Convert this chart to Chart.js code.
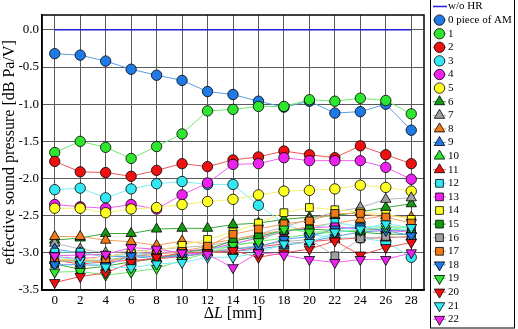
<!DOCTYPE html>
<html><head><meta charset="utf-8">
<script src="https://cdn.jsdelivr.net/npm/chart.js@4"></script>
<style>html,body{margin:0;padding:0;background:#fff}#wrap{width:518px;height:329px}</style>
</head><body><div id="wrap"><canvas id="c" width="518" height="329"></canvas></div>
<script>
const xValues = [0,2,4,6,8,10,12,14,16,18,20,22,24,26,28];
const xTicks = [0,2,4,6,8,10,12,14,16,18,20,22,24,26,28];
const yTicks = [-3.5,-3.0,-2.5,-2.0,-1.5,-1.0,-0.5,0.0];
const seriesNames = ['0 piece of AM','1','2','3','4','5','6','7','8','9','10','11','12','13','14','15','16','17','18','19','20','21','22'];
const woHR = [0,0,0,0,0,0,0,0,0,0,0,0,0,0,0];
const s0  = [-0.32,-0.34,-0.42,-0.53,-0.61,-0.68,-0.83,-0.87,-0.96,-1.04,-0.96,-1.12,-1.10,-1.00,-1.35];
const s1  = [-1.65,-1.50,-1.58,-1.73,-1.57,-1.40,-1.09,-1.07,-1.03,-1.03,-0.94,-0.96,-0.92,-0.95,-1.13];
const s2  = [-1.77,-1.91,-1.92,-1.97,-1.89,-1.80,-1.84,-1.75,-1.71,-1.63,-1.68,-1.72,-1.56,-1.68,-1.80];
const s3  = [-2.15,-2.13,-2.26,-2.14,-2.07,-2.04,-2.08,-2.08,-2.36,-2.60,-2.75,-2.80,-2.80,-2.85,-3.06];
const s4  = [-2.35,-2.38,-2.40,-2.35,-2.41,-2.22,-2.06,-1.81,-1.80,-1.72,-1.76,-1.76,-1.76,-1.85,-2.01];
const s5  = [-2.40,-2.40,-2.46,-2.41,-2.39,-2.35,-2.31,-2.28,-2.22,-2.17,-2.16,-2.14,-2.09,-2.12,-2.17];
const s6  = [-2.83,-2.80,-2.74,-2.74,-2.68,-2.67,-2.67,-2.62,-2.60,-2.55,-2.52,-2.50,-2.45,-2.39,-2.34];
const s7  = [-2.87,-2.95,-3.00,-2.98,-2.95,-2.93,-2.90,-2.85,-2.75,-2.65,-2.55,-2.45,-2.39,-2.28,-2.26];
const s8  = [-2.78,-2.78,-2.83,-2.85,-2.90,-2.84,-2.88,-2.82,-2.75,-2.70,-2.65,-2.60,-2.55,-2.50,-2.52];
const s9  = [-2.95,-3.00,-3.05,-3.05,-3.08,-3.02,-3.00,-2.98,-2.95,-2.90,-2.85,-2.78,-2.72,-2.70,-2.70];
const s10 = [-3.10,-3.12,-3.10,-3.05,-3.00,-2.98,-2.96,-2.90,-2.85,-2.80,-2.75,-2.72,-2.70,-2.68,-2.70];
const s11 = [-3.10,-3.15,-3.12,-3.10,-3.08,-3.05,-3.00,-2.98,-2.92,-2.88,-2.85,-2.82,-2.80,-2.80,-2.78];
const s12 = [-2.99,-2.99,-3.05,-3.02,-3.00,-2.98,-2.95,-2.90,-2.78,-2.70,-2.68,-2.59,-2.65,-2.65,-2.70];
const s13 = [-3.05,-3.08,-3.05,-3.00,-3.00,-2.98,-2.95,-2.88,-2.80,-2.72,-2.66,-2.65,-2.68,-2.70,-2.72];
const s14 = [-3.08,-3.10,-3.05,-3.00,-2.97,-2.90,-2.82,-2.72,-2.60,-2.46,-2.39,-2.42,-2.45,-2.48,-2.55];
const s15 = [-3.15,-3.22,-3.18,-3.12,-3.08,-3.00,-2.95,-2.84,-2.78,-2.70,-2.68,-2.70,-2.72,-2.75,-2.75];
const s16 = [-3.12,-3.10,-3.10,-3.05,-3.00,-3.00,-2.98,-2.95,-2.90,-2.85,-2.82,-3.04,-2.81,-2.78,-2.80];
const s17 = [-3.10,-3.10,-3.12,-3.05,-3.02,-2.98,-2.91,-2.75,-2.68,-2.61,-2.57,-2.47,-2.47,-2.52,-2.60];
const s18 = [-3.16,-3.16,-3.17,-3.04,-3.05,-3.05,-3.00,-2.95,-2.92,-2.82,-2.78,-2.68,-2.65,-2.70,-2.77];
const s19 = [-3.26,-3.25,-3.30,-3.26,-3.21,-3.10,-3.00,-2.90,-2.85,-2.68,-2.72,-2.72,-2.70,-2.65,-2.66];
const s20 = [-3.40,-3.32,-3.27,-3.13,-3.06,-3.00,-3.00,-2.97,-3.06,-3.00,-2.95,-2.84,-3.03,-2.93,-2.86];
const s21 = [-3.05,-3.10,-3.19,-3.20,-3.15,-3.13,-3.06,-3.06,-3.00,-2.88,-2.86,-2.72,-2.68,-2.61,-2.66];
const s22 = [-3.04,-3.03,-3.02,-2.93,-2.95,-3.00,-3.02,-3.20,-3.00,-3.03,-3.09,-3.13,-3.09,-3.09,-3.00];
const seriesValues = [s0,s1,s2,s3,s4,s5,s6,s7,s8,s9,s10,s11,s12,s13,s14,s15,s16,s17,s18,s19,s20,s21,s22];

const C = {
  blue:['#1f7ae6','#5a9ee8'], green:['#2ee62e','#70e870'], red:['#ee1111','#f05555'],
  cyan:['#33e8f2','#7aeef2'], mag:['#ee22ee','#f060f0'], yel:['#ffff22','#f4f070'],
  dgreen:['#129a12','#3aa83a'], gray:['#a0a0a0','#b8b8b8'], orange:['#f07a18','#f0a060']
};
const colorOrder = ['blue','green','red','cyan','mag','yel','dgreen','gray','orange','blue','green','red',
  'cyan','mag','yel','dgreen','gray','orange','blue','green','red','cyan','mag'];
function styleOf(i){
  if(i<6) return {pointStyle:'circle',rotation:0,radius:5.2};
  if(i<12) return {pointStyle:'triangle',rotation:0,radius:6};
  if(i<18) return {pointStyle:'rect',rotation:0,radius:5.5};
  return {pointStyle:'triangle',rotation:180,radius:6};
}
const datasets = seriesValues.map((vals,i)=>{
  const st = styleOf(i), col = C[colorOrder[i]];
  return {label:seriesNames[i], data:xValues.map((x,k)=>({x:x,y:vals[k]})),
    borderColor:col[1], borderWidth:1, backgroundColor:col[0],
    pointBackgroundColor:col[0], pointBorderColor:'#000', pointBorderWidth:0.8,
    pointStyle:st.pointStyle, pointRotation:st.rotation, pointRadius:st.radius, pointHoverRadius:st.radius,
    tension:0, order:100-i};
});
datasets.push({label:'w/o HR', data:xValues.map((x,k)=>({x:x,y:woHR[k]})), borderColor:'#2020d8',
  borderWidth:1.5, pointRadius:0, tension:0, order:200});

const legendPlugin = {
  id:'customLegend',
  afterDraw(chart){
    const ctx = chart.ctx, ca = chart.chartArea;
    ctx.save();
    ctx.strokeStyle='#000'; ctx.lineWidth=1.5;
    ctx.strokeRect(ca.left, ca.top, ca.right-ca.left, ca.bottom-ca.top);
    // x axis title with italic L
    const parts = [['\u0394','16px "Liberation Serif"'],['L','italic 16px "Liberation Serif"'],[' [mm]','16px "Liberation Serif"']];
    let tw = 0; parts.forEach(p=>{ctx.font=p[1]; tw+=ctx.measureText(p[0]).width;});
    let tx = (ca.left+ca.right)/2 - tw/2; const ty = 318;
    ctx.fillStyle='#000'; ctx.textBaseline='alphabetic'; ctx.textAlign='left';
    parts.forEach(p=>{ctx.font=p[1]; ctx.fillText(p[0],tx,ty); tx+=ctx.measureText(p[0]).width;});
    // legend
    ctx.strokeStyle='#000'; ctx.lineWidth=1;
    ctx.strokeRect(430.5,-2,84,330);
    ctx.font='11px "Liberation Serif"'; ctx.textBaseline='middle'; ctx.fillStyle='#000';
    const step = 13.6; let y = 6.5;
    ctx.strokeStyle='#2020d8'; ctx.lineWidth=1.5;
    ctx.beginPath(); ctx.moveTo(433,y); ctx.lineTo(447,y); ctx.stroke();
    ctx.fillStyle='#000'; ctx.fillText('w/o HR',448,y);
    for(let i=0;i<seriesNames.length;i++){
      y = 6.5 + (i+1)*step;
      const st = styleOf(i), col = C[colorOrder[i]];
      ctx.strokeStyle=col[1]; ctx.lineWidth=1;
      ctx.beginPath(); ctx.moveTo(433,y); ctx.lineTo(446,y); ctx.stroke();
      ctx.fillStyle=col[0]; ctx.strokeStyle='#000'; ctx.lineWidth=0.8;
      Chart.helpers.drawPoint(ctx,{pointStyle:st.pointStyle,rotation:st.rotation,radius:st.radius,borderWidth:0.8},439.5,y);
      ctx.fillStyle='#000';
      ctx.fillText(seriesNames[i],448,y);
    }
    ctx.restore();
  }
};

new Chart(document.getElementById('c'),{
  type:'line',
  data:{datasets:datasets},
  options:{
    responsive:false, animation:false, devicePixelRatio:1,
    layout:{padding:{left:0,right:94,top:15,bottom:0}},
    plugins:{legend:{display:false},tooltip:{enabled:false}},
    scales:{
      x:{type:'linear',min:-1,max:29,
        afterBuildTicks(s){s.ticks=xTicks.map(v=>({value:v}));},
        afterFit(s){s.height=39;},
        grid:{color:'#5a5a5a',lineWidth:1,drawTicks:false},
        border:{color:'#000',width:1.5},
        ticks:{color:'#000',font:{family:'"Liberation Serif"',size:13},padding:3,maxRotation:0},
        title:{display:false}
      },
      y:{type:'linear',min:-3.5,max:0.2,
        afterBuildTicks(s){s.ticks=yTicks.map(v=>({value:v}));},
        afterFit(s){s.width=42;},
        grid:{color:'#5a5a5a',lineWidth:1,drawTicks:false},
        border:{color:'#000',width:1.5},
        ticks:{color:'#000',font:{family:'"Liberation Serif"',size:13},padding:3,callback:v=>v.toFixed(1)},
        title:{display:true,text:'effective sound pressure [dB Pa/V]',color:'#000',font:{family:'"Liberation Serif"',size:16},padding:{top:0,bottom:0}}
      }
    }
  },
  plugins:[legendPlugin]
});
</script></body></html>
